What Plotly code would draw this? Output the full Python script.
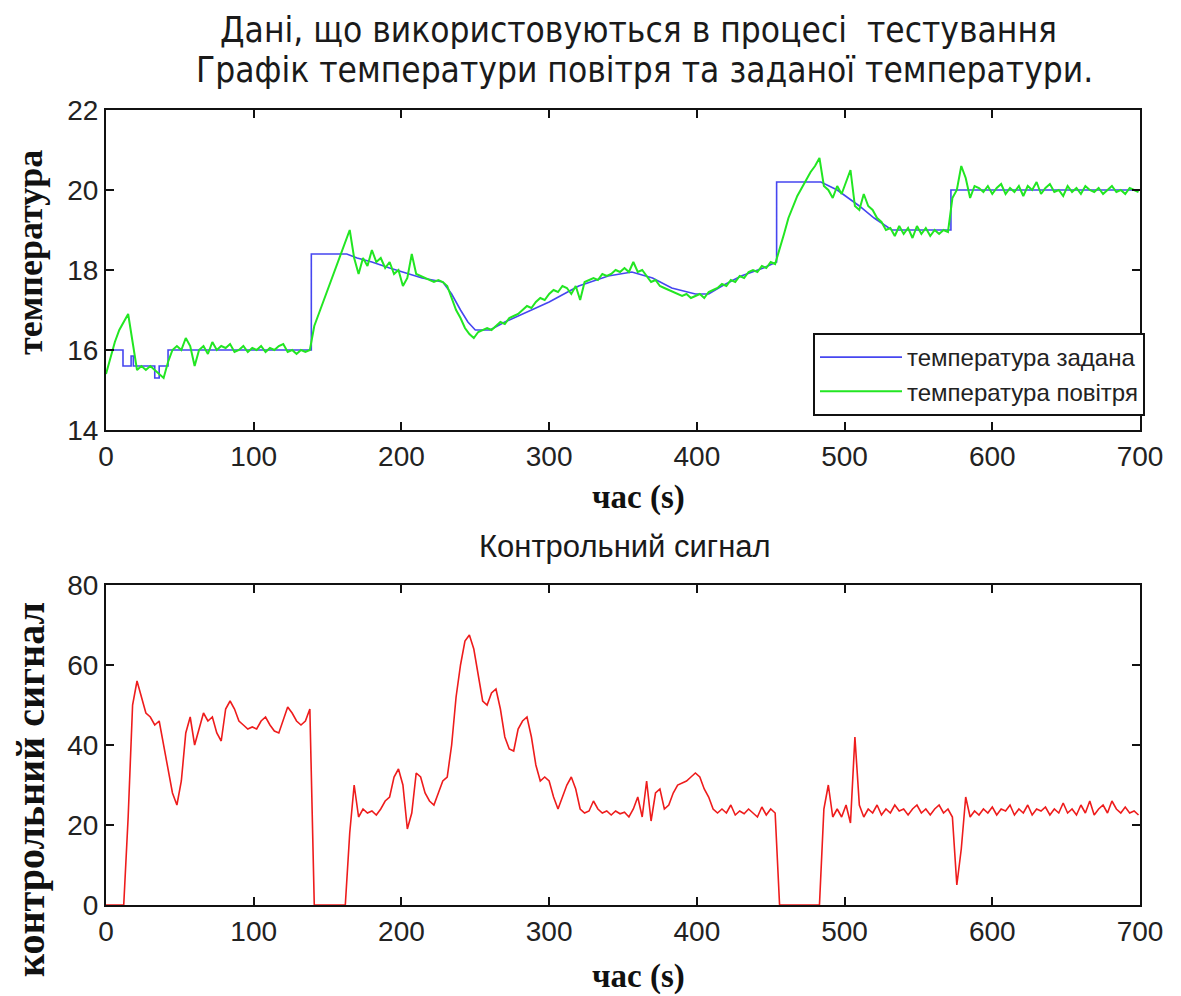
import plotly.graph_objects as go

# ---------------- data ----------------
# setpoint temperature (breakpoints of the profile)
set_t = [0, 11.5, 11.5, 17, 17, 18.5, 18.5, 33, 33, 36, 36, 42, 42, 139, 139, 163, 170, 180, 192, 205,
         214, 228, 234, 240, 245, 250, 260, 270, 285, 300, 320, 340, 356, 370, 383, 399, 408, 417,
         430, 445, 454, 454, 484, 495, 510, 520, 532, 572, 572, 700]
set_v = [16.0, 16.0, 15.6, 15.6, 15.85, 15.85, 15.6, 15.6, 15.3, 15.3, 15.6, 15.6, 16.0, 16.0, 18.4, 18.4,
         18.3, 18.2, 18.05, 17.9, 17.8, 17.7, 17.4, 17.0, 16.7, 16.5, 16.5, 16.7, 16.95, 17.2, 17.6, 17.85,
         17.95, 17.8, 17.55, 17.4, 17.4, 17.6, 17.85, 18.05, 18.2, 20.2, 20.2, 20.0, 19.6, 19.3, 19.0,
         19.0, 20.0, 20.0]

# sampling time of measured signals (s)
time_s = list(range(0, 700, 3))

air_temp = [
    15.4, 15.8, 16.2, 16.5, 16.7, 16.9, 16.2, 15.5, 15.6, 15.5, 15.6, 15.5, 15.4, 15.3, 15.7, 16.0,
    16.1, 16.0, 16.3, 16.1, 15.6, 16.0, 16.1, 15.9, 16.2, 16.0, 16.1, 16.05, 16.15, 15.95, 16.0, 16.1,
    15.95, 16.05, 16.0, 16.1, 15.95, 16.05, 16.0, 16.1, 16.15, 15.95, 16.0, 15.9, 16.0, 15.95, 16.0,
    16.6, 16.9, 17.2, 17.5, 17.8, 18.1, 18.4, 18.7, 19.0, 18.3, 17.9, 18.3, 18.1, 18.5, 18.2, 18.3,
    18.05, 18.2, 17.9, 18.0, 17.6, 17.8, 18.4, 17.9, 17.85, 17.8, 17.75, 17.7, 17.75, 17.7, 17.6, 17.3,
    17.0, 16.8, 16.55, 16.4, 16.3, 16.45, 16.5, 16.55, 16.5, 16.6, 16.7, 16.65, 16.8, 16.85, 16.9, 17.0,
    17.1, 17.05, 17.2, 17.3, 17.25, 17.4, 17.5, 17.45, 17.6, 17.55, 17.4, 17.6, 17.25, 17.7, 17.75,
    17.8, 17.75, 17.9, 17.85, 17.9, 18.0, 17.95, 18.05, 17.95, 18.2, 17.95, 18.0, 17.85, 17.7, 17.75,
    17.6, 17.55, 17.5, 17.45, 17.4, 17.35, 17.4, 17.3, 17.35, 17.4, 17.3, 17.45, 17.5, 17.55, 17.65,
    17.6, 17.75, 17.7, 17.85, 17.8, 17.95, 18.0, 17.95, 18.1, 18.05, 18.2, 18.15, 18.5, 18.9, 19.3,
    19.6, 19.85, 20.05, 20.25, 20.45, 20.6, 20.8, 20.1, 20.0, 19.8, 20.1, 19.9, 20.2, 20.5, 19.6, 19.5,
    19.9, 19.6, 19.5, 19.3, 19.2, 19.0, 19.05, 18.85, 19.1, 18.9, 19.05, 18.8, 19.1, 18.9, 19.05, 18.85,
    19.0, 18.9, 19.0, 18.95, 19.8, 20.0, 20.6, 20.3, 19.8, 20.1, 20.05, 19.95, 20.1, 19.9, 20.05, 20.15,
    19.9, 20.05, 19.95, 20.1, 19.85, 20.1, 20.0, 20.2, 19.9, 20.05, 20.15, 19.95, 20.0, 19.85, 20.1,
    19.95, 20.05, 19.9, 20.1, 20.0, 19.95, 20.05, 19.9, 20.0, 20.1, 19.95, 20.0, 19.9, 20.05, 20.0, 19.95]

control = [
    0, 0, 0, 0, 0, 22, 50, 56, 52, 48, 47, 45, 46, 40, 33, 28, 25, 31, 43, 47, 40, 44, 48, 46, 47, 43,
    41, 49, 51, 49, 46, 45, 44, 44.5, 44, 46, 47, 45, 43.5, 43, 46, 49.5, 48, 46, 45, 46, 49,
    0, 0, 0, 0, 0, 0, 0, 0,
    18, 30, 22, 24, 23, 23.5, 22.5, 24, 26, 27, 32, 34, 30, 19, 23, 33, 32, 28, 26, 25, 28, 31, 32, 40,
    52, 60, 66, 67.5, 64, 57, 51, 50, 53, 54, 49, 42, 39, 38.5, 44, 46, 47, 42, 35, 31, 32, 31, 27, 24,
    27, 30, 32, 29, 24, 23, 23.5, 26, 24, 23, 23.5, 22.5, 23.5, 22.8, 23.2, 22, 24, 27, 22, 31, 21, 28,
    29, 24, 25, 28, 30, 30.5, 31, 32, 33, 32, 29, 27, 24, 23, 24, 23, 25, 22.5, 23.5, 22.8, 24, 23, 22,
    24.5, 22.5, 24, 23,
    0, 0, 0, 0, 0, 0, 0, 0, 0, 0,
    24, 30, 22, 24, 22, 25, 20.5, 42, 25, 22, 24, 23, 25, 22.5, 24, 23, 25, 23.5, 24, 22.5, 24, 25, 23,
    24, 22.5, 24, 25, 23, 24, 22, 5, 14, 27, 22, 23.5, 22.5, 24, 23, 24.5, 22.5, 24, 23.5, 25, 22.5, 24,
    23, 25, 22.5, 24, 23.5, 24.5, 22.5, 24, 23, 25.5, 23, 24, 22.5, 25, 23, 26, 22.5, 24, 25, 23, 26,
    24, 23, 24.5, 23, 23.5, 22.5]

x_ticks = [0, 100, 200, 300, 400, 500, 600, 700]
temp_ticks = [14, 16, 18, 20, 22]
ctrl_ticks = [0, 20, 40, 60, 80]

# ---------------- figure ----------------
fig = go.Figure()
fig.add_trace(go.Scatter(x=set_t, y=set_v, mode="lines", name="температура задана",
                         line=dict(color="#4646f0", width=1.6), xaxis="x", yaxis="y"))
fig.add_trace(go.Scatter(x=time_s, y=air_temp, mode="lines", name="температура повітря",
                         line=dict(color="#22e622", width=2), xaxis="x", yaxis="y"))
fig.add_trace(go.Scatter(x=time_s, y=control, mode="lines", name="контрольний сигнал",
                         line=dict(color="#ee1c1c", width=1.6), xaxis="x2", yaxis="y2",
                         showlegend=False))

tickfont = dict(family="Liberation Sans, Arial, sans-serif", size=28, color="#222222")
axis_common = dict(showline=True, linecolor="#111111", linewidth=2, mirror="ticks",
                   ticks="inside", ticklen=8, tickwidth=1.5, tickcolor="#111111",
                   showgrid=False, zeroline=False, tickfont=tickfont)

OFF = 8                      # page offset of the figure inside the browser window
W, H = 1181 - OFF, 996 - OFF
PL, PR, PT, PB = 106, 1140, 110, 905   # plot box in page pixels
L, R, T, B = PL - OFF, W - (PR - OFF), PT - OFF, H - (PB - OFF)


def py(p):
    return (PB - p) / (PB - PT)


def px(p):
    return (p - PL) / (PR - PL)


fig.update_layout(
    width=W, height=H,
    margin=dict(l=L, r=R, t=T, b=B),
    paper_bgcolor="white", plot_bgcolor="white",
    xaxis=dict(domain=[0, 1], range=[0, 700], tickvals=x_ticks, anchor="y", **axis_common),
    yaxis=dict(domain=[py(430), 1], range=[14, 22], tickvals=temp_ticks, anchor="x", **axis_common),
    xaxis2=dict(domain=[0, 1], range=[0, 700], tickvals=x_ticks, anchor="y2", **axis_common),
    yaxis2=dict(domain=[0, py(585)], range=[0, 80], tickvals=ctrl_ticks, anchor="x2", **axis_common),
    legend=dict(x=px(813), y=py(333), xanchor="left", yanchor="top",
                bgcolor="white", bordercolor="#111111", borderwidth=2,
                font=dict(family="Liberation Sans, Arial, sans-serif", size=24, color="#222222"),
                itemwidth=82, tracegroupgap=0),
    showlegend=True,
)

title_font = dict(family="Liberation Sans Narrow, Arial Narrow, DejaVu Sans Condensed, sans-serif",
                  size=35, color="#1a1a1a")
serif_bold = dict(family="Liberation Serif, Times New Roman, serif", size=33, color="#111111",
                  weight="bold")
serif_bold_y1 = dict(serif_bold, size=36)
serif_bold_y2 = dict(serif_bold, size=40)

ann = [
    dict(text="Дані, що використовуються в процесі  тестування", x=px(638), y=py(30), font=title_font),
    dict(text="Графік температури повітря та заданої температури.", x=px(644), y=py(70), font=title_font),
    dict(text="Контрольний сигнал", x=px(625), y=py(546),
         font=dict(family="Liberation Sans, Arial, sans-serif", size=31, color="#1a1a1a")),
    dict(text="час (s)", x=px(638), y=py(497), font=serif_bold),
    dict(text="час (s)", x=px(638), y=py(976), font=serif_bold),
    dict(text="температура", x=px(30), y=py(253), font=serif_bold_y1, textangle=-90),
    dict(text="контрольний сигнал", x=px(30), y=py(790), font=serif_bold_y2, textangle=-90),
]
for a in ann:
    fig.add_annotation(xref="paper", yref="paper", xanchor="center", yanchor="middle",
                       showarrow=False, **a)

fig.write_html("out.html")
